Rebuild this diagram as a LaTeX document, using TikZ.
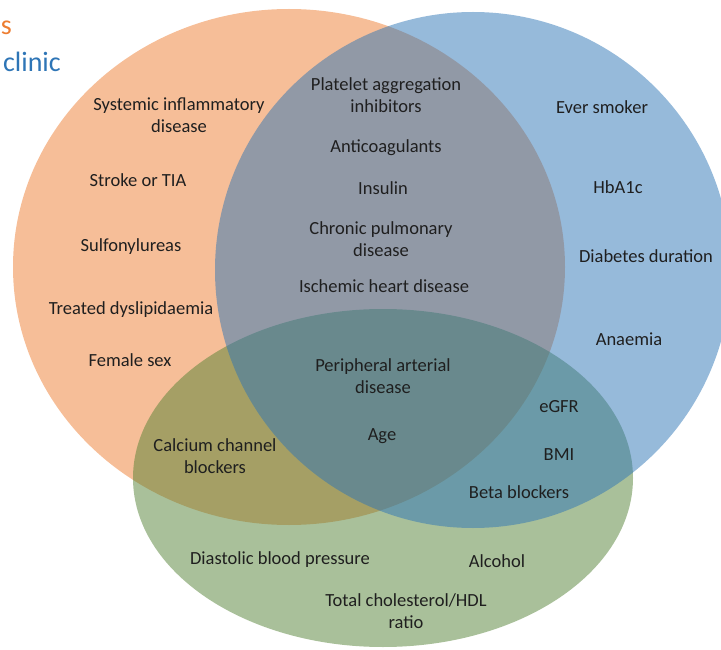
\documentclass[tikz,border=0pt]{standalone}
\usepackage{fontspec}
\setmainfont{Carlito}
\definecolor{setorange}{HTML}{ED7D31}
\definecolor{setblue}{HTML}{2E75B6}
\definecolor{setgreen}{HTML}{548235}
\begin{document}
\begin{tikzpicture}[x=1pt, y=-1pt,
  set/.style={fill opacity=0.5},
  lbl/.style={font=\fontsize{18.5}{22}\selectfont, align=center, text=black!88, inner sep=0pt},
  key/.style={font=\fontsize{28}{32}\selectfont, inner sep=0pt, anchor=east}]
  \useasboundingbox (0,0) rectangle (721,650);
  \clip (0,0) rectangle (721,650);

  % Three sets (orange, green, blue)
  \fill[setorange, set] (289,267) ellipse [x radius=276pt, y radius=258pt];
  \fill[setgreen, set] (383,478) ellipse [x radius=250pt, y radius=169pt];
  \fill[setblue, set] (473,270) ellipse [x radius=258pt, y radius=258pt];

  % Legend (cut at the left edge)
  \node[key, text=setorange] (keyA) at (12,28) {s};
  \node[key, text=setblue] (keyB) at (61,62) {clinic};

  % Orange only
  \node[lbl] (sid) at (179,115) {Systemic inflammatory\\disease};
  \node[lbl] (tia) at (138,180) {Stroke or TIA};
  \node[lbl] (sulf) at (131,247) {Sulfonylureas};
  \node[lbl] (dysl) at (131,310) {Treated dyslipidaemia};
  \node[lbl] (fem) at (130,360) {Female sex};

  % Orange and blue
  \node[lbl] (plat) at (386,95) {Platelet aggregation\\inhibitors};
  \node[lbl] (anti) at (386,148) {Anticoagulants};
  \node[lbl] (ins) at (383,188) {Insulin};
  \node[lbl] (copd) at (381,239) {Chronic pulmonary\\disease};
  \node[lbl] (ihd) at (384,286) {Ischemic heart disease};

  % All three
  \node[lbl] (pad) at (383,376) {Peripheral arterial\\disease};
  \node[lbl] (age) at (382,436) {Age};

  % Orange and green
  \node[lbl] (ccb) at (215,456) {Calcium channel\\blockers};

  % Blue only
  \node[lbl] (smk) at (602,107) {Ever smoker};
  \node[lbl] (hba) at (618,187) {HbA1c};
  \node[lbl] (dur) at (646,256) {Diabetes duration};
  \node[lbl] (anae) at (629,339) {Anaemia};

  % Blue and green
  \node[lbl] (egfr) at (559,407) {eGFR};
  \node[lbl] (bmi) at (559,455) {BMI};
  \node[lbl] (beta) at (519,492) {Beta blockers};

  % Green only
  \node[lbl] (dbp) at (280,560) {Diastolic blood pressure};
  \node[lbl] (alc) at (497,561) {Alcohol};
  \node[lbl] (chol) at (406,611) {Total cholesterol/HDL\\ratio};
\end{tikzpicture}
\end{document}
